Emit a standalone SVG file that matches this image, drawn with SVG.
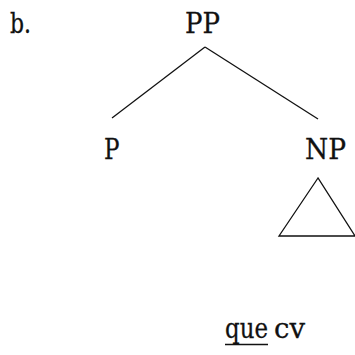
<svg xmlns="http://www.w3.org/2000/svg" width="355" height="355" viewBox="0 0 355 355">
<style>
.t{font-family:'DejaVu Serif',serif;font-size:27.5px;fill:#111;stroke:#111;stroke-width:0.3}
.e{stroke:#111;stroke-width:1.3;fill:none}
</style>
<rect width="355" height="355" fill="#fff"/>
<text class="t" x="10" y="33" textLength="21" lengthAdjust="spacingAndGlyphs">b.</text>
<g id="PP"><text class="t" x="185" y="33" textLength="35" lengthAdjust="spacingAndGlyphs">PP</text></g>
<g id="P"><text class="t" x="104" y="159" textLength="15.5" lengthAdjust="spacingAndGlyphs">P</text></g>
<g id="NP"><text class="t" x="305" y="159" textLength="41" lengthAdjust="spacingAndGlyphs">NP</text>
<polygon class="e" points="318,178 279,236 355,236"/></g>
<g id="que"><text class="t" y="338"><tspan x="225" textLength="43" lengthAdjust="spacingAndGlyphs">que</tspan><tspan x="274" textLength="31" lengthAdjust="spacingAndGlyphs">cv</tspan></text>
<line class="e" x1="225" y1="344.5" x2="268" y2="344.5"/></g>
<g id="connectors">
<line class="e" x1="205" y1="47" x2="112" y2="118"/>
<line class="e" x1="205" y1="47" x2="318" y2="119"/>
</g>
</svg>
